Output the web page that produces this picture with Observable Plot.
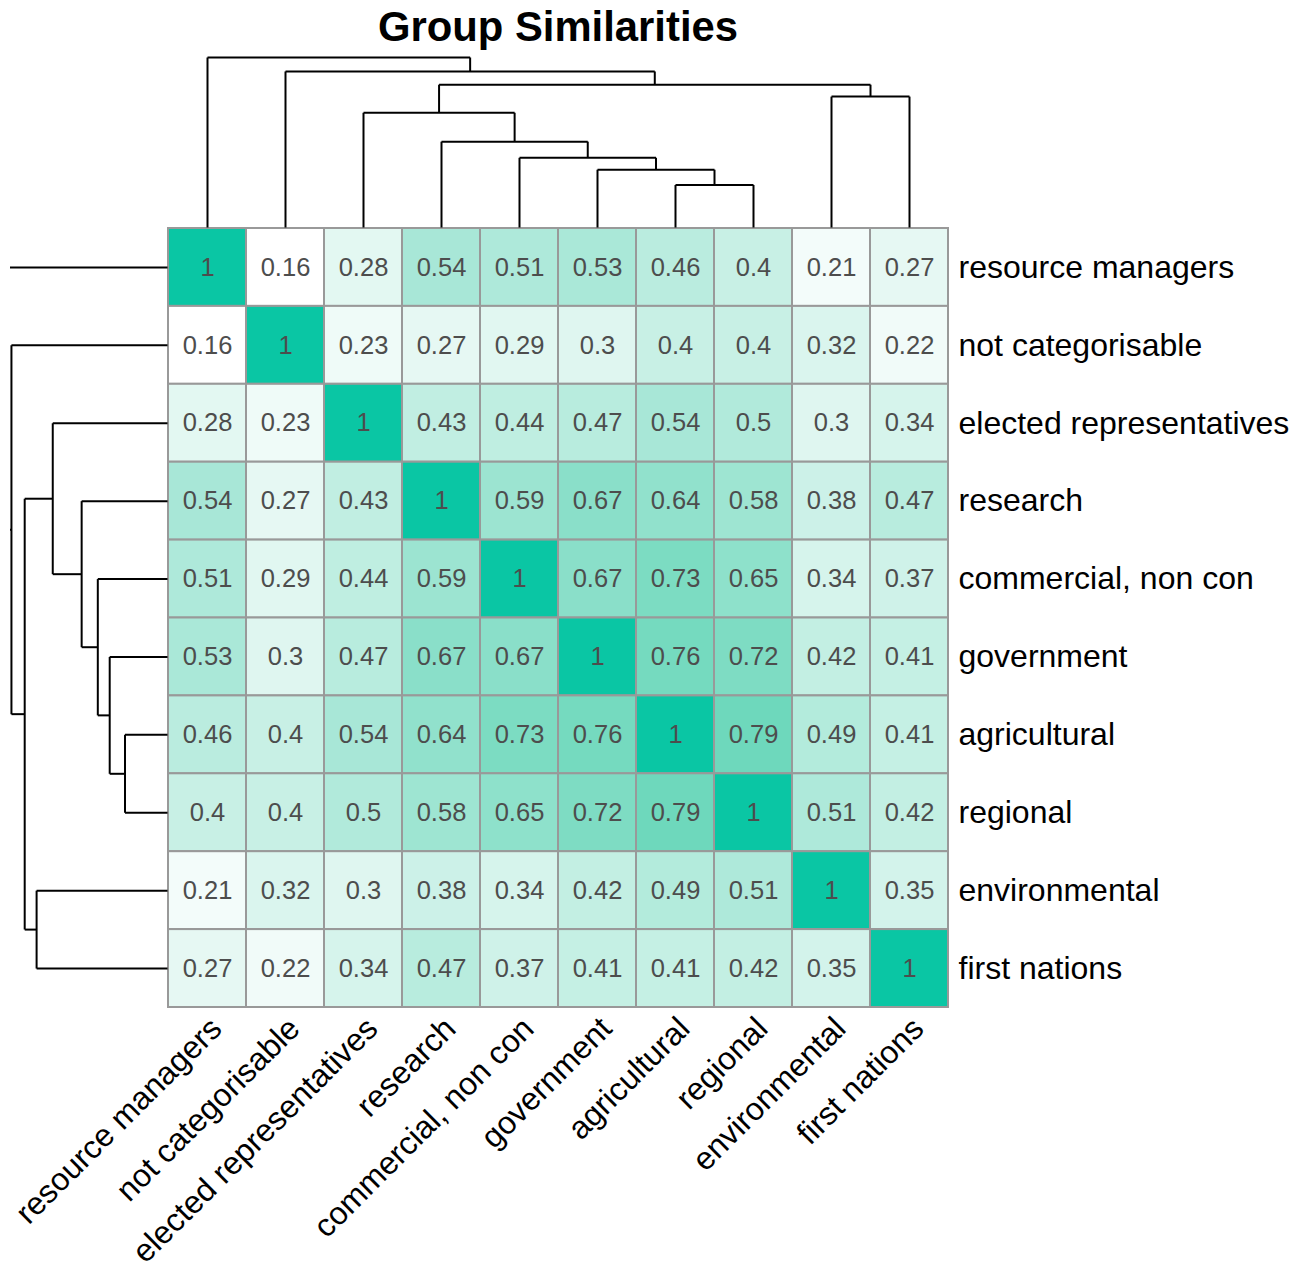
<!DOCTYPE html>
<html>
<head>
<meta charset="utf-8">
<script src="https://cdn.jsdelivr.net/npm/d3@7"></script>
<script src="https://cdn.jsdelivr.net/npm/@observablehq/plot@0.6"></script>
<style>
  body { margin: 0; background: #ffffff; }
  #chart { position: relative; width: 1307px; height: 1267px; background: #ffffff;
           font-family: "Liberation Sans", Arial, Helvetica, sans-serif; overflow: hidden; }
  #chart > svg, #chart > figure { position: absolute; left: 0; top: 0; margin: 0; }
  #title { position: absolute; left: 0; top: 6px; width: 1116px; text-align: center;
           font-weight: bold; font-size: 41.8px; line-height: 42px; color: #000; }
</style>
</head>
<body>
<div id="chart"><div id="title">Group Similarities</div></div>
<script>
// ---- data ----
const groups = [
  "resource managers", "not categorisable", "elected representatives", "research",
  "commercial, non con", "government", "agricultural", "regional",
  "environmental", "first nations"
];

const similarity = [
  [1,    0.16, 0.28, 0.54, 0.51, 0.53, 0.46, 0.4,  0.21, 0.27],
  [0.16, 1,    0.23, 0.27, 0.29, 0.3,  0.4,  0.4,  0.32, 0.22],
  [0.28, 0.23, 1,    0.43, 0.44, 0.47, 0.54, 0.5,  0.3,  0.34],
  [0.54, 0.27, 0.43, 1,    0.59, 0.67, 0.64, 0.58, 0.38, 0.47],
  [0.51, 0.29, 0.44, 0.59, 1,    0.67, 0.73, 0.65, 0.34, 0.37],
  [0.53, 0.3,  0.47, 0.67, 0.67, 1,    0.76, 0.72, 0.42, 0.41],
  [0.46, 0.4,  0.54, 0.64, 0.73, 0.76, 1,    0.79, 0.49, 0.41],
  [0.4,  0.4,  0.5,  0.58, 0.65, 0.72, 0.79, 1,    0.51, 0.42],
  [0.21, 0.32, 0.3,  0.38, 0.34, 0.42, 0.49, 0.51, 1,    0.35],
  [0.27, 0.22, 0.34, 0.47, 0.37, 0.41, 0.41, 0.42, 0.35, 1]
];

// hierarchical clustering merges: [left child, right child, merge height]
// "#k" refers to the k-th merge
const merges = [
  ["agricultural", "regional", 0.25],
  ["government", "#0", 0.34],
  ["commercial, non con", "#1", 0.41],
  ["research", "#2", 0.505],
  ["elected representatives", "#3", 0.675],
  ["environmental", "first nations", 0.77],
  ["#4", "#5", 0.84],
  ["not categorisable", "#6", 0.918],
  ["resource managers", "#7", 1.0]
];

const colorStops = [0.16, 0.79, 1];
const colorRange = ["#ffffff", "#6ed8bc", "#0ac6a4"];

// ---- dendrogram segments ----
const nodePos = [], nodeH = [];
const isNode = k => k.startsWith("#");
const pos = k => isNode(k) ? nodePos[+k.slice(1)] : groups.indexOf(k);
const ht = k => isNode(k) ? nodeH[+k.slice(1)] : 0;
const segs = [];
merges.forEach(([a, b, h], i) => {
  const pa = pos(a), pb = pos(b), ha = ht(a), hb = ht(b);
  segs.push({p1: pa, h1: ha, p2: pa, h2: h});
  segs.push({p1: pa, h1: h, p2: pb, h2: h});
  segs.push({p1: pb, h1: h, p2: pb, h2: hb});
  nodePos[i] = (pa + pb) / 2;
  nodeH[i] = h;
});
const maxH = d3.max(merges, d => d[2]);

// ---- layout ----
const W = 1307, H = 1267;
const heatLeft = 168, heatRight = 948, heatTop = 228, heatBottom = 1007;
const dendroPx = 170;
const font = "'Liberation Sans', Arial, Helvetica, sans-serif";
const chart = document.getElementById("chart");

// heatmap
const cells = groups.flatMap((r, i) => groups.map((c, j) => ({row: r, col: c, value: similarity[i][j]})));
const heatPlot = Plot.plot({
  width: W, height: H,
  marginLeft: heatLeft, marginRight: W - heatRight, marginTop: heatTop, marginBottom: H - heatBottom,
  x: {domain: groups, padding: 0, round: false, axis: null},
  y: {domain: groups, padding: 0, round: false, axis: null},
  color: {type: "linear", domain: colorStops, range: colorRange, interpolate: "rgb"},
  style: {background: "none", fontFamily: font, overflow: "visible"},
  marks: [
    Plot.cell(cells, {x: "col", y: "row", fill: "value", stroke: "#999999", strokeWidth: 2}),
    Plot.text(cells, {x: "col", y: "row", text: d => String(d.value), fill: "#4d4d4d", fontSize: 25.5}),
    Plot.text(groups, {y: d => d, frameAnchor: "right", textAnchor: "start", dx: 10, fontSize: 32, fill: "#000"}),
    Plot.text(groups, {x: d => d, frameAnchor: "bottom", rotate: -45, textAnchor: "end", lineAnchor: "top",
                       dy: 7, fontSize: 32, fill: "#000"})
  ]
});
chart.appendChild(heatPlot);

// top dendrogram
const topDendro = Plot.plot({
  width: W, height: heatTop,
  marginLeft: heatLeft, marginRight: W - heatRight, marginTop: heatTop - 1 - dendroPx, marginBottom: 1,
  x: {type: "linear", domain: [-0.5, groups.length - 0.5], axis: null},
  y: {type: "linear", domain: [0, maxH], axis: null},
  style: {background: "none", overflow: "visible"},
  marks: [
    Plot.link(segs, {x1: "p1", y1: "h1", x2: "p2", y2: "h2", stroke: "#000", strokeWidth: 2})
  ]
});
chart.appendChild(topDendro);

// left dendrogram (clipped at the left edge like the original)
const leftDendro = Plot.plot({
  width: heatLeft, height: H,
  marginLeft: 10, marginRight: 0, marginTop: heatTop, marginBottom: H - heatBottom,
  x: {type: "linear", domain: [0, maxH], range: [heatLeft - 1, heatLeft - 1 - dendroPx], axis: null},
  y: {type: "linear", domain: [-0.5, groups.length - 0.5], range: [heatTop, heatBottom], axis: null},
  style: {background: "none"},
  marks: [
    Plot.link(segs, {x1: "h1", y1: "p1", x2: "h2", y2: "p2", stroke: "#000", strokeWidth: 2, clip: true})
  ]
});
chart.appendChild(leftDendro);
</script>
</body>
</html>
